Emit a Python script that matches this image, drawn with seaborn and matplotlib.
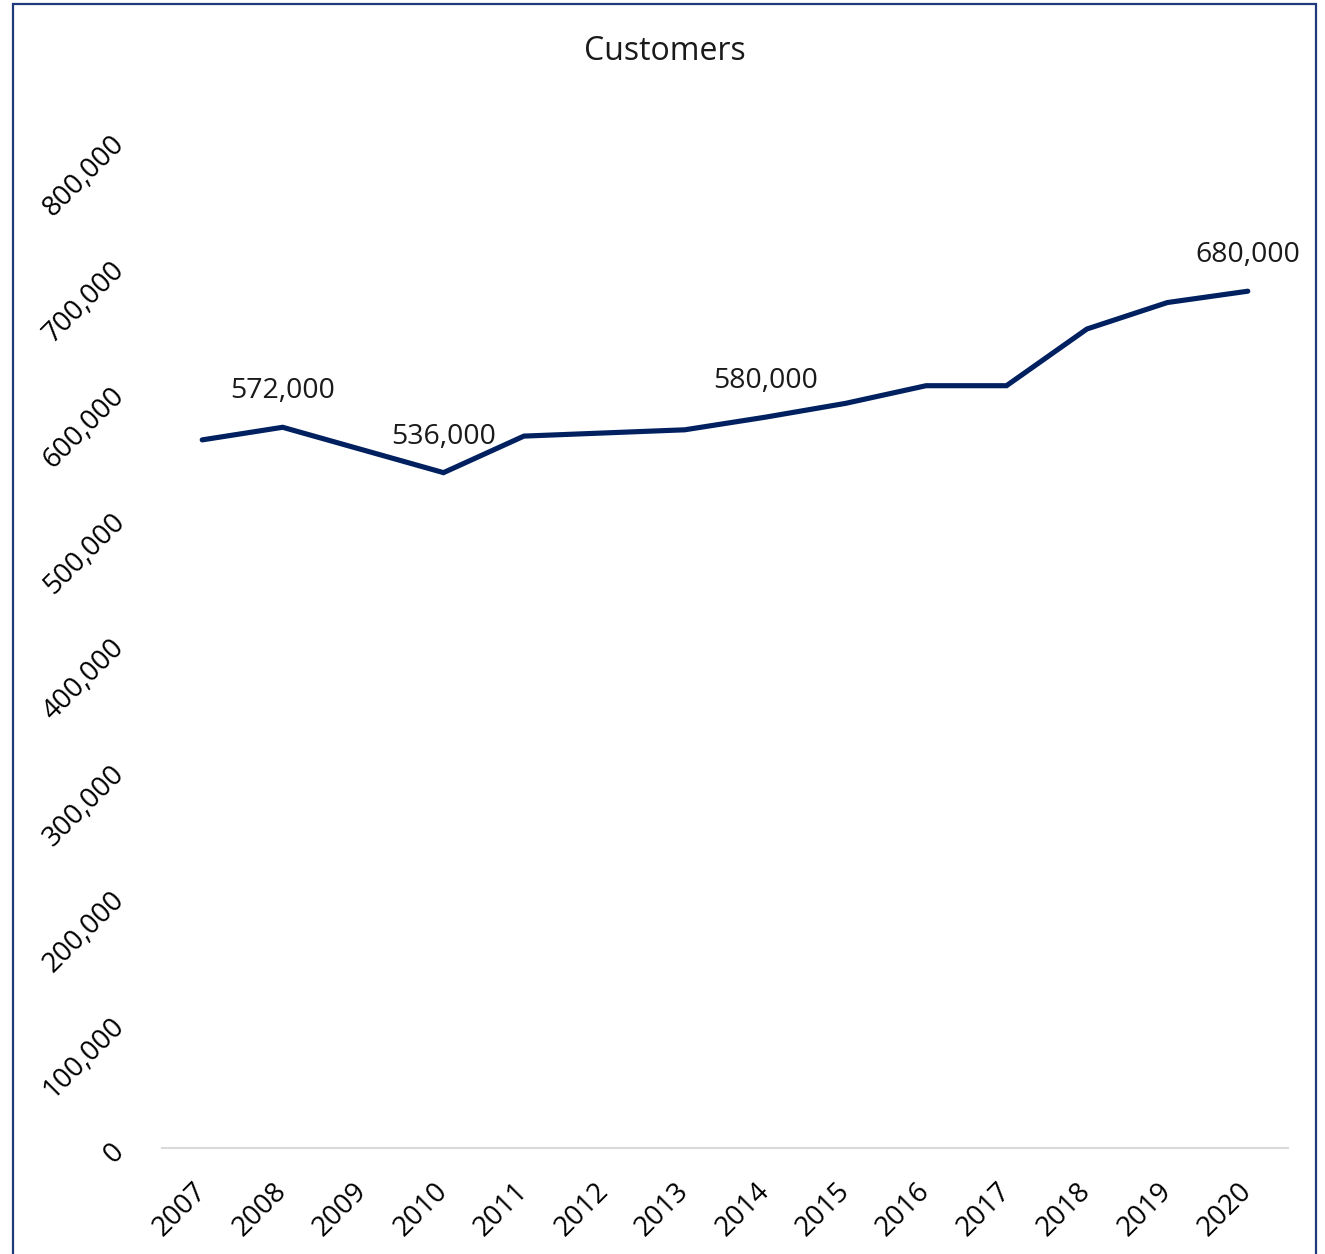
import matplotlib
matplotlib.use("Agg")
import matplotlib.pyplot as plt
import matplotlib.patches as mpatches
import matplotlib.ticker as mticker
import seaborn as sns
import pandas as pd

years = [2007, 2008, 2009, 2010, 2011, 2012, 2013, 2014, 2015, 2016, 2017, 2018, 2019, 2020]
customers = [562000, 572000, 554000, 536000, 565000, 567500, 570000, 580000, 591000, 605000, 605000, 650000, 671000, 680000]
labeled_years = [2008, 2010, 2014, 2020]
y_ticks = [0, 100000, 200000, 300000, 400000, 500000, 600000, 700000, 800000]
title = "Customers"

sns.set_theme(style="white")
plt.rcParams['font.family'] = ['Open Sans', 'DejaVu Sans']

df = pd.DataFrame({"year": years, "customers": customers})

W, H = 1325, 1254
fig = plt.figure(figsize=(W / 100, H / 100), dpi=100)
ax = fig.add_axes([162 / W, 1 - 1148 / H, (1288 - 162) / W, (1148 - 140) / H])

sns.lineplot(data=df, x="year", y="customers", ax=ax, color="#002060", linewidth=3.7,
             solid_capstyle="round", solid_joinstyle="miter")

ax.set_xlim(years[0] - 0.5, years[-1] + 0.5)
ax.set_ylim(0, 800000)
ax.set_xticks(years)
ax.set_xticklabels([str(y) for y in years])
ax.set_yticks(y_ticks)
ax.yaxis.set_major_formatter(mticker.FuncFormatter(lambda v, p: f"{int(v):,}"))
ax.set_xlabel("")
ax.set_ylabel("")

for s in ["top", "right", "left"]:
    ax.spines[s].set_visible(False)
ax.spines["bottom"].set_color("#d9d9d9")
ax.spines["bottom"].set_linewidth(1.5)
ax.grid(False)

ax.tick_params(axis="both", length=0, labelsize=20, colors="#000000")
ax.tick_params(axis="y", pad=30)
ax.tick_params(axis="x", pad=28)
for lab in ax.get_yticklabels():
    lab.set_rotation(45)
    lab.set_rotation_mode("anchor")
    lab.set_ha("right")
    lab.set_va("center")
for lab in ax.get_xticklabels():
    lab.set_rotation(45)
    lab.set_rotation_mode("anchor")
    lab.set_ha("right")
    lab.set_va("center")

for yr, val in zip(years, customers):
    if yr in labeled_years:
        ax.annotate(f"{val:,}", xy=(yr, val), xytext=(0, 26), textcoords="offset points",
                    ha="center", va="center", fontsize=20.5, color="#1a1a1a")

fig.text(665 / W, 1 - 51 / H, title, ha="center", va="center", fontsize=23, color="#1a1a1a")

border = mpatches.Rectangle((12.5 / W, -0.01), (1316 - 12.5) / W, 1.01 - 3.5 / H,
                            transform=fig.transFigure, fill=False, edgecolor="#1f3a7a",
                            linewidth=1.6, clip_on=False)
fig.patches.append(border)

fig.savefig("out.png", dpi=100, facecolor="white")
